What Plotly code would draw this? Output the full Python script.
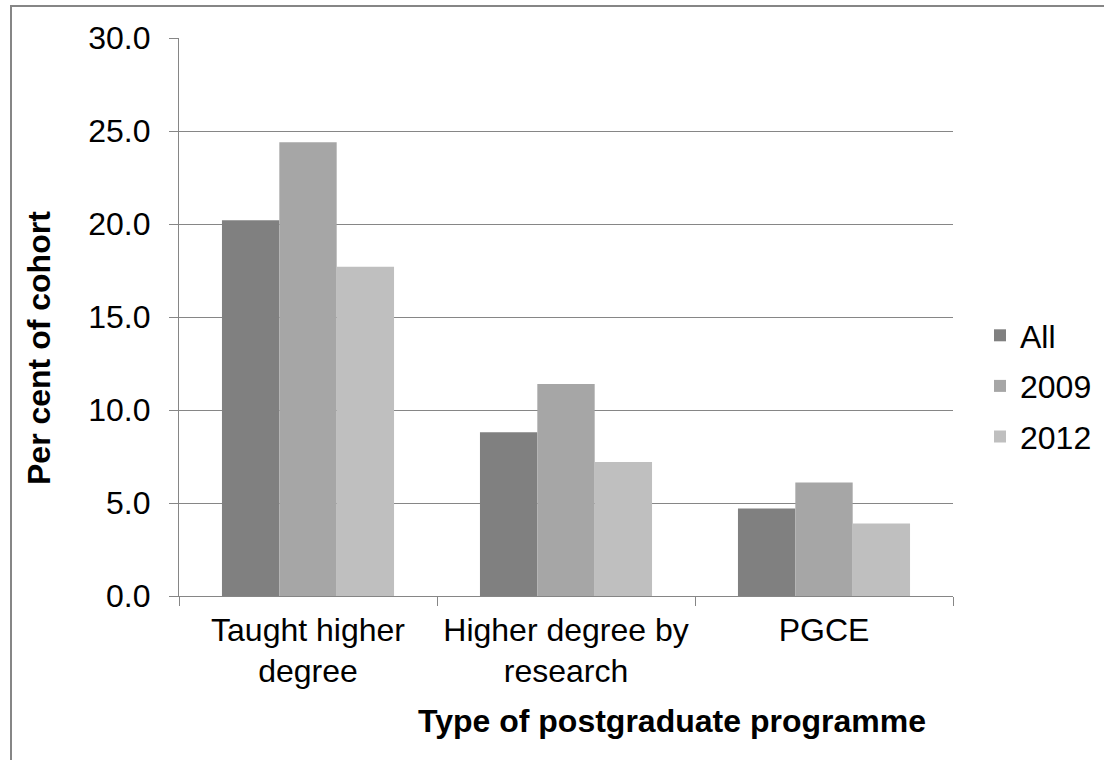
import plotly.graph_objects as go

categories = ["Taught higher<br>degree", "Higher degree by<br>research", "PGCE"]
series_names = ["All", "2009", "2012"]
values_all = [20.2, 8.8, 4.7]
values_2009 = [24.4, 11.4, 6.1]
values_2012 = [17.7, 7.2, 3.9]
series_values = [values_all, values_2009, values_2012]
series_colors = ["#808080", "#A6A6A6", "#BFBFBF"]
y_ticks = [0, 5, 10, 15, 20, 25, 30]

W, H = 1104, 760
L, R, T, B = 179, 151, 38, 164
pw, ph = W - L - R, H - T - B

def px(xp):
    return (xp - L) / pw

def py(yp):
    return 1 - (yp - T) / ph

FONT = "Liberation Sans, Arial, sans-serif"
GRID = "#868686"
FS = 32

fig = go.Figure()
for name, vals, col in zip(series_names, series_values, series_colors):
    fig.add_trace(go.Bar(
        x=categories, y=vals, name=name,
        marker=dict(color=col, line=dict(width=0)),
        legendgroup=name,
    ))

fig.update_layout(
    width=W, height=H,
    margin=dict(l=L, r=R, t=T, b=B, pad=0, autoexpand=False),
    paper_bgcolor="white", plot_bgcolor="white",
    barmode="group", bargap=0.333, bargroupgap=0,
    font=dict(family=FONT, size=FS, color="black"),
    showlegend=True,
    legend=dict(
        xref="container", yref="container",
        x=980 / W, xanchor="left", y=1 - 386 / H, yanchor="middle",
        font=dict(size=FS), traceorder="grouped", tracegroupgap=6,
        bgcolor="rgba(0,0,0,0)", borderwidth=0,
    ),
    xaxis=dict(
        type="category", showline=True, linecolor=GRID, linewidth=1.3,
        ticks="outside", tickson="boundaries", ticklen=9, tickcolor=GRID, tickwidth=1.3,
        showgrid=False, tickfont=dict(size=FS), ticklabelstandoff=5,
    ),
    yaxis=dict(
        range=[0, 30], tickvals=y_ticks, tickformat=".1f",
        showline=True, linecolor=GRID, linewidth=1.3,
        ticks="outside", ticklen=9, tickcolor=GRID, tickwidth=1.3,
        showgrid=True, gridcolor=GRID, gridwidth=1.3, zeroline=False,
        tickfont=dict(size=FS), ticklabelstandoff=12,
    ),
    annotations=[
        dict(text="<b>Per cent of cohort</b>", textangle=-90,
             x=px(39), y=py(348), xref="paper", yref="paper",
             showarrow=False, font=dict(size=FS), xanchor="center", yanchor="middle"),
        dict(text="<b>Type of postgraduate programme</b>",
             x=px(672), y=py(721), xref="paper", yref="paper",
             showarrow=False, font=dict(size=FS), xanchor="center", yanchor="middle"),
    ],
    shapes=[
        dict(type="rect", xref="paper", yref="paper",
             x0=px(11), x1=px(W + 20), y0=py(6), y1=py(H + 20),
             line=dict(color=GRID, width=2), fillcolor="rgba(0,0,0,0)", layer="above"),
    ],
)

fig.write_html(
    "out.html",
    config={"displayModeBar": False},
    post_script="document.body.style.margin='0';document.body.style.padding='0';document.body.style.overflow='hidden';",
)
